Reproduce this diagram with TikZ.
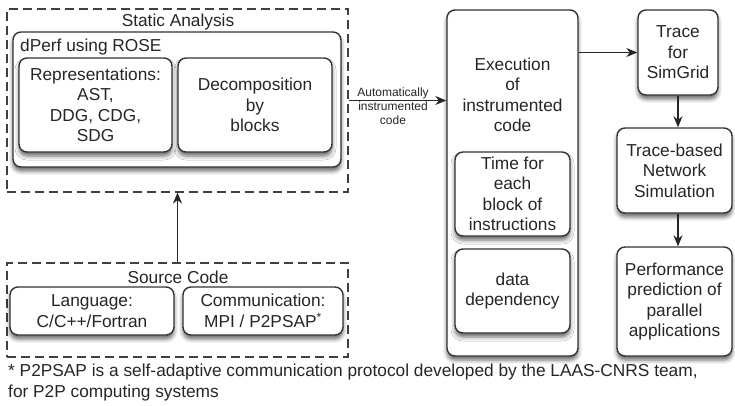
\documentclass[tikz,border=0pt]{standalone}
\usepackage{fontspec}
\setmainfont{Liberation Sans}
\usetikzlibrary{arrows.meta,shadows.blur}
\begin{document}
\begin{tikzpicture}[x=1pt,y=-1pt,
  font=\fontsize{17.3}{20.5}\selectfont,
  every node/.style={text=black!85, inner sep=0pt, align=center},
  rbox/.style={draw=black!80, line width=1.4pt, rounded corners=8pt, fill=white,
    blur shadow={shadow xshift=0pt, shadow yshift=-4pt, shadow blur radius=4pt, shadow opacity=60}},
  dbox/.style={draw=black!75, line width=1.2pt, dash pattern=on 9pt off 5pt},
  arr/.style={draw=black!85, line width=1.2pt, -{Stealth[length=11pt,width=9pt,inset=3.5pt]}},
  small/.style={font=\fontsize{12}{14}\selectfont}
]
\useasboundingbox (0,0) rectangle (735,405);

% Static analysis
\node[dbox, minimum width=341pt, minimum height=183pt] (static) at (177.5,100.5) {};
\node (statict) at (178,22) {Static Analysis};
\node[rbox, minimum width=328pt, minimum height=135pt] (dperf) at (177,99.5) {};
\node[anchor=west] (dperft) at (20,47) {dPerf using ROSE};
\node[rbox, minimum width=153pt, minimum height=94pt] (repr) at (95.5,105)
  {Representations:\\AST,\\DDG, CDG,\\SDG};
\node[rbox, minimum width=154pt, minimum height=94pt] (decomp) at (255,105)
  {Decomposition\\by\\blocks};

% Source code
\node[dbox, minimum width=341pt, minimum height=94pt] (src) at (177.5,310) {};
\node (srct) at (178,277) {Source Code};
\node[rbox, minimum width=164pt, minimum height=48pt] (lang) at (92,311)
  {Language:\\C/C++/Fortran};
\node[rbox, minimum width=160pt, minimum height=48pt] (comm) at (263,311)
  {Communication:\\MPI / P2PSAP\textsuperscript{*}};

% Execution
\node[rbox, minimum width=131pt, minimum height=346pt] (exec) at (512.5,183) {};
\node (exect) at (512.5,95) {Execution\\of\\instrumented\\code};
\node[rbox, minimum width=115pt, minimum height=84pt] (time) at (512.5,194)
  {Time for\\each\\block of\\instructions};
\node[rbox, minimum width=115pt, minimum height=84pt] (data) at (512.5,291)
  {data\\dependency};

% Right column
\node[rbox, minimum width=80pt, minimum height=85pt] (trace) at (678,52.5)
  {Trace\\for\\SimGrid};
\node[rbox, minimum width=115pt, minimum height=85pt] (tbased) at (674.5,170.5)
  {Trace-based\\Network\\Simulation};
\node[rbox, minimum width=115pt, minimum height=109pt] (perf) at (674.5,301.5)
  {Performance\\prediction of\\parallel\\applications};

% Connectors
\draw[arr] (src.north) -- (static.south);
\draw[arr] (static.east) -- (static.east -| exec.west);
\node[small] (lbl) at (393,106) {Automatically\\instrumented\\code};
\draw[arr] (exec.east |- trace.west) -- (trace.west);
\draw[arr] (trace.south) -- (trace.south |- tbased.north);
\draw[arr] (trace.south |- tbased.south) -- (trace.south |- perf.north);

% Footnote
\node[anchor=west, align=left] (note) at (8,382.5)
  {* P2PSAP is a self-adaptive communication protocol developed by the LAAS-CNRS team,\\for P2P computing systems};
\end{tikzpicture}
\end{document}
